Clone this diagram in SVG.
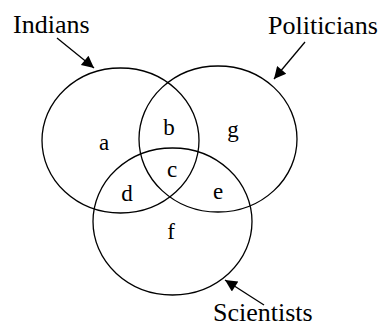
<svg xmlns="http://www.w3.org/2000/svg" width="381" height="328" viewBox="0 0 381 328">
<defs>
<style>
.c{fill:none;stroke:#000;stroke-width:1.3}
.t{font-family:"Liberation Serif","Times New Roman",serif;fill:#000}
.lab{font-size:26px}
.reg{font-size:23px;text-anchor:middle}
.ar{stroke:#000;stroke-width:1.3;fill:none}
</style>
<marker id="ah" viewBox="0 0 10 10" refX="10" refY="5" markerWidth="15" markerHeight="12" markerUnits="userSpaceOnUse" orient="auto">
<path d="M0,0 L10,5 L0,10 z" fill="#000"/>
</marker>
</defs>
<rect width="381" height="328" fill="#fff"/>
<g id="indians">
<ellipse class="c" cx="120.5" cy="140.5" rx="78.5" ry="72.5"/>
<text class="t lab" x="13" y="33">Indians</text>
</g>
<g id="politicians">
<ellipse class="c" cx="218" cy="139" rx="79" ry="73"/>
<text class="t lab" x="268" y="34">Politicians</text>
</g>
<g id="scientists">
<ellipse class="c" cx="172.5" cy="221.5" rx="79.5" ry="73.5"/>
<text class="t lab" x="213" y="321">Scientists</text>
</g>
<g id="regions">
<text class="t reg" x="104" y="150">a</text>
<text class="t reg" x="169" y="135">b</text>
<text class="t reg" x="172" y="177">c</text>
<text class="t reg" x="127" y="201">d</text>
<text class="t reg" x="218" y="199">e</text>
<text class="t reg" x="171" y="239">f</text>
<text class="t reg" x="233" y="137">g</text>
</g>
<g id="connectors">
<line class="ar" x1="57" y1="38" x2="94" y2="68" marker-end="url(#ah)"/>
<line class="ar" x1="305" y1="42" x2="274" y2="79" marker-end="url(#ah)"/>
<line class="ar" x1="264" y1="305" x2="225" y2="280" marker-end="url(#ah)"/>
</g>
</svg>
